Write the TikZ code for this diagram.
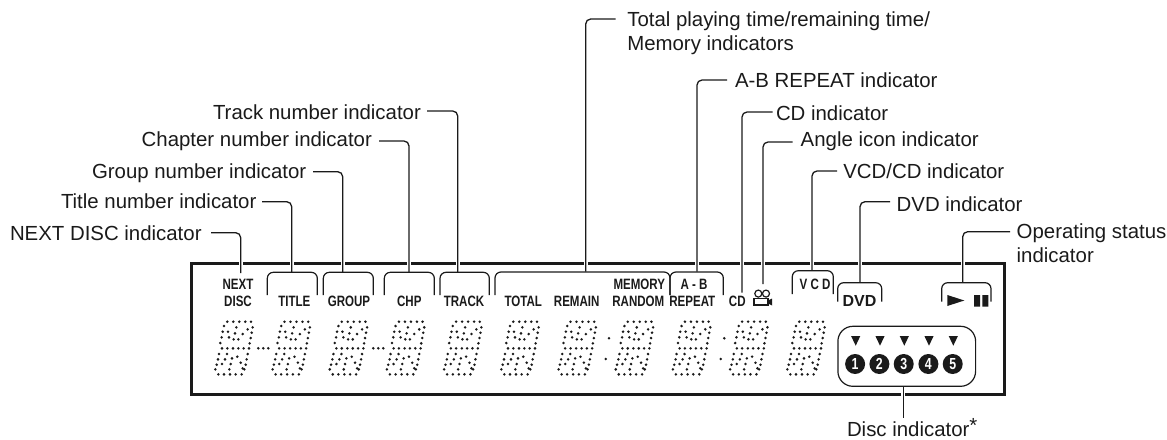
\documentclass[tikz,border=0pt]{standalone}
\usepackage{fontspec}
\setmainfont{Liberation Sans}
\definecolor{ink}{HTML}{1A1A1A}
\newcommand{\lcd}[1]{\scalebox{.77}[1]{#1}}
\tikzset{
  x=1pt,y=-1pt,
  lead/.style={draw=ink,line width=1.3pt,rounded corners=5pt},
  brk/.style={draw=ink,line width=1.2pt,rounded corners=6pt},
  frm/.style={draw=ink,line width=3pt,line join=miter},
  halo/.style={draw=white,line width=4pt},
  lbl/.style={anchor=base west,inner sep=0pt,outer sep=0pt,text=ink,font=\fontsize{20.4}{20.4}\selectfont},
  ind/.style={anchor=base,inner sep=0pt,outer sep=0pt,text=ink,font=\fontsize{15}{15}\selectfont\bfseries},
  num/.style={circle,fill=ink,minimum size=20pt,inner sep=0pt,text=white,font=\fontsize{16}{16}\selectfont\bfseries},
  digitpic/.pic={
    \begin{scope}[x=.3333pt,y=-.3333pt,shift={(-45,-215)}]
    \foreach \a/\b in {82/215,100/215,118/215,136/215,153/215,
      72/228,68/245,65/262,61/279,158/232,155/248,152/264,149/280,
      109/232,105/250,101/268,84/245,87/262,143/238,128/252,115/268,
      66/295,82/295,99/295,115/295,131/295,147/295,
      57/312,54/328,50/344,46/358,143/312,140/328,137/344,133/358,
      96/325,92/342,88/358,81/312,75/328,66/342,112/320,122/338,128/355,
      55/373,72/373,90/373,107/373,125/373}
      \fill[ink] (\a,\b) circle (1.4pt);
    \end{scope}
  }
}
\begin{document}
\begin{tikzpicture}
\useasboundingbox (0,0) rectangle (1167,439);
\node[frm,draw,rectangle,minimum width=813pt,minimum height=130.5pt,inner sep=0pt,anchor=north west] (frame) at (190,262) {};
% halos over the frame
\foreach \h in {240.7,291.7,342.7,409,457.7,585.7,697,742,763,812,860,962.7}
  \draw[halo] (\h,259) -- (\h,265);
\draw[halo] (903.3,389.5) -- (903.3,396);
% labels
\node[lbl] (lnext) at (10,240) {NEXT DISC indicator};
\node[lbl] (ltitle) at (61,208.3) {Title number indicator};
\node[lbl] (lgroup) at (92,178) {Group number indicator};
\node[lbl] (lchap) at (141.7,146) {Chapter number indicator};
\node[lbl] (ltrack) at (213,119) {Track number indicator};
\node[lbl] (ltotal) at (627.3,26.7) {Total playing time/remaining time/};
\node[lbl] (lmem) at (627.3,50.7) {Memory indicators};
\node[lbl] (lab) at (735,87.3) {A-B REPEAT indicator};
\node[lbl] (lcd) at (776,120) {CD indicator};
\node[lbl] (lang) at (800.7,146) {Angle icon indicator};
\node[lbl] (lvcd) at (843.3,178.3) {VCD/CD indicator};
\node[lbl] (ldvd) at (896.7,211) {DVD indicator};
\node[lbl] (lop) at (1016.7,238.3) {Operating status};
\node[lbl] (lop2) at (1016.7,262.3) {indicator};
\node[lbl] (ldisc) at (847,436.5) {Disc indicator\raisebox{4pt}{*}};
% leader anchors
\coordinate (a1) at (211,232.7); \coordinate (b1) at (240.7,273);
\coordinate (a2) at (262,201.7); \coordinate (b2) at (291.7,272);
\coordinate (a3) at (313,171.7); \coordinate (b3) at (342.7,272);
\coordinate (a4) at (379,141);   \coordinate (b4) at (409,272);
\coordinate (a5) at (427,111);   \coordinate (b5) at (457.7,272);
\coordinate (a6) at (615.7,19);  \coordinate (b6) at (585.7,271.5);
\coordinate (a7) at (727,80);    \coordinate (b7) at (697,271.5);
\coordinate (a8) at (772.7,112); \coordinate (b8) at (742,292.7);
\coordinate (a9) at (792.7,142); \coordinate (b9) at (763,284);
\coordinate (a10) at (837,171);  \coordinate (b10) at (812,270.5);
\coordinate (a11) at (890,201.7);\coordinate (b11) at (860,282.5);
\coordinate (a12) at (1010,231.7);\coordinate (b12) at (962.7,282.5);
\foreach \i in {1,...,12} \draw[lead] (a\i) -| (b\i);
% brackets
\foreach \l/\r/\t/\u in {267.3/317.3/272.3/295,323.3/373.3/272.3/295,384.3/434.3/272.3/295,440/489.3/272.3/295,
  495/670/272/295,670/723.3/272/295,792.3/833.3/270.7/294,837.7/881.7/282.7/301.7,941.7/991/282.7/301.7}
  \draw[brk] (\l,\u) -- (\l,\t) -- (\r,\t) -- (\r,\u);
% indicator texts
\node[ind] (tnext) at (238,289.5) {\lcd{NEXT}};
\node[ind] (tdisc) at (238,306.5) {\lcd{DISC}};
\node[ind] (ttitle) at (294.3,306.5) {\lcd{TITLE}};
\node[ind] (tgroup) at (349,306.5) {\lcd{GROUP}};
\node[ind] (tchp) at (409.3,306.5) {\lcd{CHP}};
\node[ind] (ttrack) at (464,306.5) {\lcd{TRACK}};
\node[ind] (ttot) at (523.3,306.5) {\lcd{TOTAL}};
\node[ind] (trem) at (576.7,306.5) {\lcd{REMAIN}};
\node[ind] (tran) at (638.3,306.5) {\lcd{RANDOM}};
\node[ind] (tmem) at (639.3,289.8) {\lcd{MEMORY}};
\node[ind] (trep) at (692.3,306.5) {\lcd{REPEAT}};
\node[ind] (tab) at (694,289.8) {\lcd{A - B}};
\node[ind] (tcd) at (737.3,306.5) {\lcd{CD}};
\node[ind] (tv) at (815,289.5) {\lcd{V C D}};
\node[ind,font=\fontsize{16}{16}\selectfont\bfseries] (tdvd) at (859.5,306.7) {DVD};
% camera icon
\draw[ink,line width=1.2pt] (758.3,293.6) circle (3.5pt) (766,293.6) circle (3.5pt);
\draw[ink,line width=1.2pt] (754,298.5) rectangle (768,305);
\fill[ink] (768,300.5) -- (772,298.5) -- (772,305.5) -- (768,303.5) -- cycle;
% play pause
\fill[ink] (947.3,295) -- (964.3,300.5) -- (947.3,306) -- cycle;
\fill[ink] (974,295) rectangle (980,306.5) (982.3,295) rectangle (988.3,306.5);
% digits
\foreach \i in {0,...,10} \pic at ({215+57.2*\i},321.7) {digitpic};
\foreach \p/\q in {258.3/348.3,263.3/348.3,268.3/348.3,373.3/348.3,378.3/348.3,383.3/348.3,609/338.3,605.7/359,724.3/338.3,720.7/359}
  \fill[ink] (\p,\q) circle (1.4pt);
% disc box
\node[draw=ink,line width=1.2pt,rectangle,rounded corners=15pt,minimum width=137.7pt,minimum height=60pt,inner sep=0pt,anchor=north west] (dbox) at (837.3,325.7) {};
\foreach \c/\n in {855.7/1,880/2,904.3/3,929/4,953.3/5}{
  \fill[ink] (\c-4.6,336) -- (\c+4.6,336) -- (\c,345.7) -- cycle;
  \node[num] (d\n) at (\c-.6,364) {\lcd{\n}};
}
\coordinate (ddisc) at (903.3,418);
\draw[lead] (dbox.south -| ddisc) -- (ddisc);
\end{tikzpicture}
\end{document}
